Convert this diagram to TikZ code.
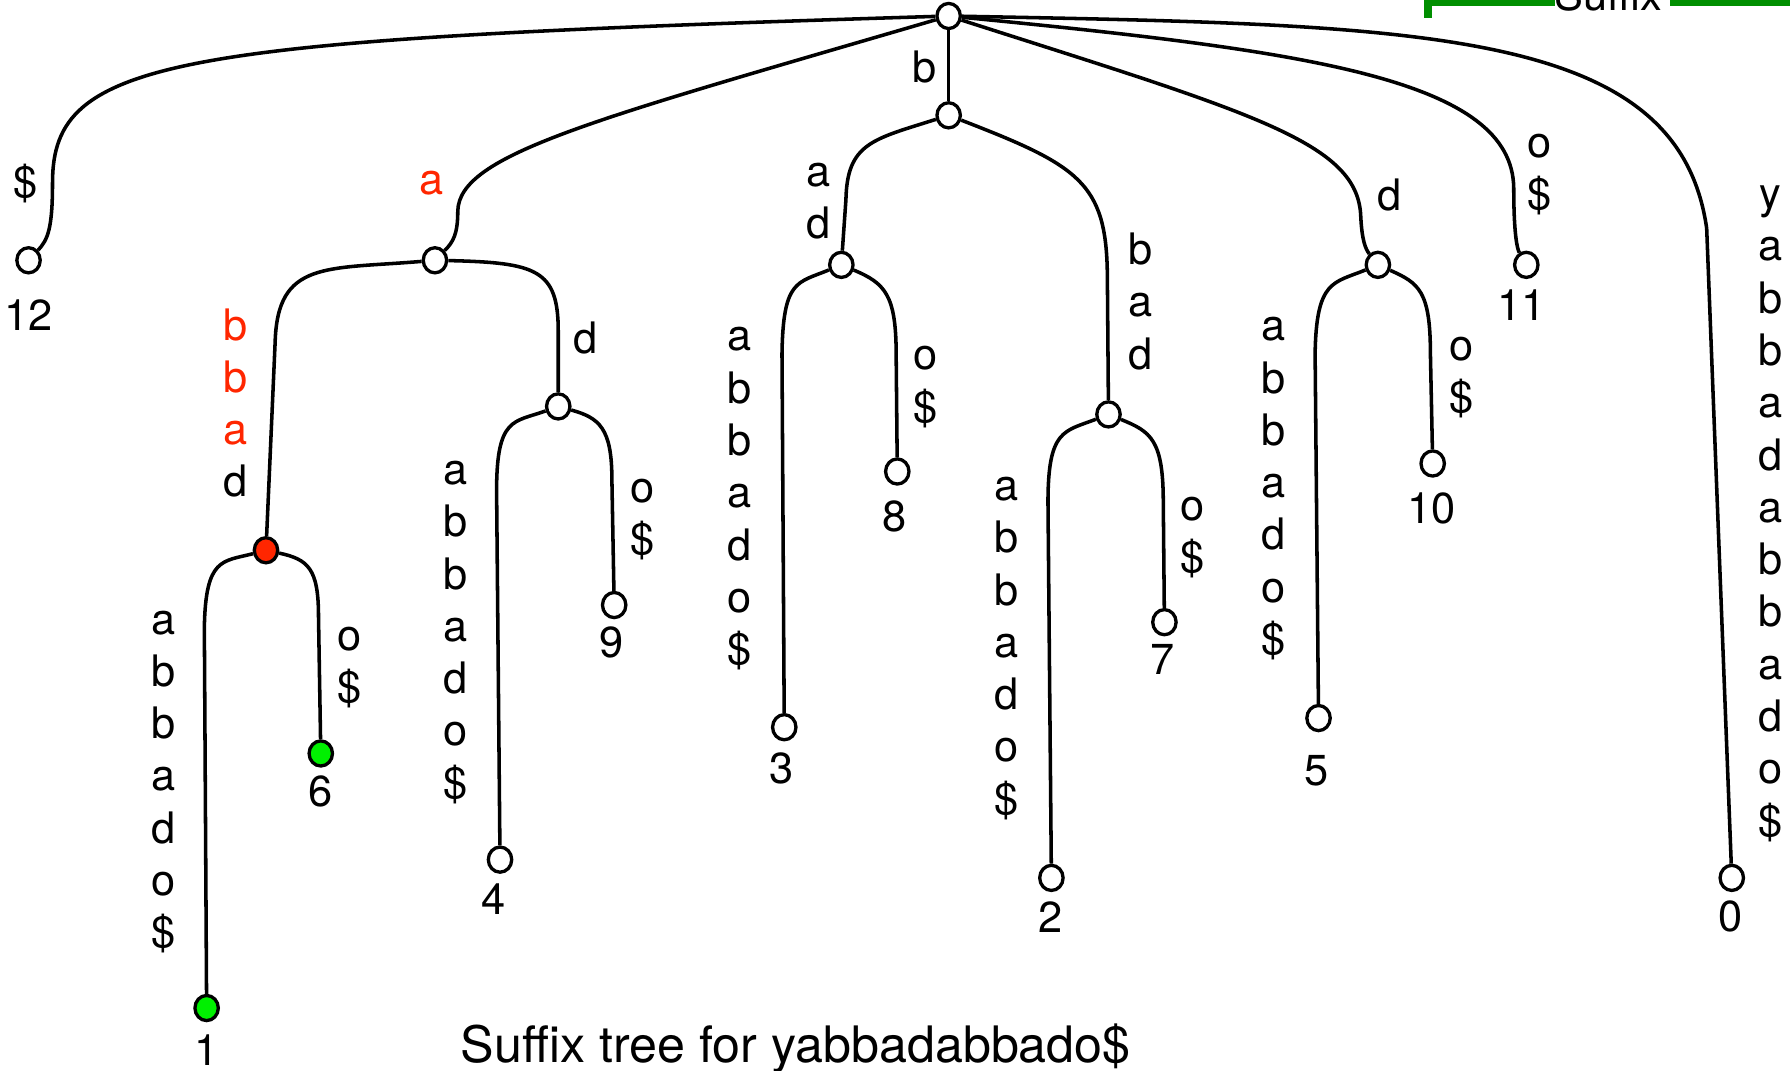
\documentclass[tikz,border=0pt]{standalone}
\usepackage{fontspec}
\usetikzlibrary{shapes.geometric}
\setmainfont{TeX Gyre Heros}
\definecolor{ored}{RGB}{255,38,0}
\definecolor{olime}{RGB}{0,240,0}
\definecolor{oclover}{RGB}{0,143,0}
\begin{document}
\begin{tikzpicture}[x=1pt,y=-1pt,
  nd/.style={ellipse,draw,line width=2.9pt,fill=white,minimum width=20.5pt,minimum height=22pt,inner sep=0pt},
  ed/.style={line width=3.1pt},
  lab/.style={font=\fontsize{38}{45.8}\selectfont,align=center,inner sep=0pt},
  num/.style={font=\fontsize{38}{45.8}\selectfont,inner sep=0pt}]
\useasboundingbox (0,0) rectangle (1568,938);
\clip (0,0) rectangle (1568,938);
% nodes
\node[nd] (R) at (831,14) {};
\node[nd] (B) at (831,101) {};
\node[nd] (A) at (381,228) {};
\node[nd] (L12) at (25,228) {};
\node[nd,fill=ored] (X) at (233,482) {};
\node[nd] (AD) at (489,356) {};
\node[nd,fill=olime] (L1) at (181,883) {};
\node[nd,fill=olime] (L6) at (281,660) {};
\node[nd] (L4) at (438,753) {};
\node[nd] (L9) at (538,530) {};
\node[nd] (BAD) at (737,232) {};
\node[nd] (L3) at (687,637) {};
\node[nd] (L8) at (786,413) {};
\node[nd] (BB) at (971,363) {};
\node[nd] (L2) at (921,769) {};
\node[nd] (L7) at (1020,545) {};
\node[nd] (D) at (1207,232) {};
\node[nd] (L5) at (1155,629) {};
\node[nd] (L10) at (1255,406) {};
\node[nd] (L11) at (1337,232) {};
\node[nd] (L0) at (1517,769) {};
% edges
\draw[ed] (R) .. controls (150,35) and (46,50) .. (46,160) .. controls (46,200) and (42,210) .. (L12);
\draw[ed] (R) .. controls (520,105) and (402,135) .. (401,185) .. controls (401,205) and (397,212) .. (A);
\draw[ed] (R) -- (B);
\draw[ed] (R) .. controls (1100,100) and (1190,125) .. (1192,190) .. controls (1193,210) and (1196,218) .. (D);
\draw[ed] (R) .. controls (1150,45) and (1325,70) .. (1326,165) .. controls (1326,205) and (1329,218) .. (L11);
\draw[ed] (R) .. controls (1250,22) and (1470,25) .. (1495,200) -- (L0);
\draw[ed] (B) .. controls (765,122) and (742,125) .. (741,175) -- (BAD);
\draw[ed] (B) .. controls (945,145) and (969,160) .. (970,240) -- (BB);
\draw[ed] (A) .. controls (285,236) and (243,228) .. (241,300) -- (X);
\draw[ed] (A) .. controls (470,230) and (489,236) .. (489,290) -- (AD);
\draw[ed] (X) .. controls (195,492) and (180,488) .. (179,550) -- (L1);
\draw[ed] (X) .. controls (270,490) and (279,498) .. (279,540) -- (L6);
\draw[ed] (AD) .. controls (450,370) and (435,365) .. (435,430) -- (L4);
\draw[ed] (AD) .. controls (525,366) and (536,375) .. (536,420) -- (L9);
\draw[ed] (BAD) .. controls (698,248) and (686,245) .. (685,310) -- (L3);
\draw[ed] (BAD) .. controls (775,248) and (785,258) .. (785,310) -- (L8);
\draw[ed] (BB) .. controls (932,378) and (918,376) .. (918,440) -- (L2);
\draw[ed] (BB) .. controls (1008,378) and (1019,385) .. (1019,440) -- (L7);
\draw[ed] (D) .. controls (1168,248) and (1153,245) .. (1152,310) -- (L5);
\draw[ed] (D) .. controls (1243,248) and (1253,255) .. (1253,310) -- (L10);
% edge labels
\node[lab] (s1) at (22,161) {\$};
\node[lab,text=ored] (s2) at (378,160) {a};
\node[lab] (s3) at (810,59) {b};
\node[lab] (s4) at (206,353) {\textcolor{ored}{b}\\\textcolor{ored}{b}\\\textcolor{ored}{a}\\d};
\node[lab] (s5) at (513,296) {d};
\node[lab] (s6) at (143,685) {a\\b\\b\\a\\d\\o\\\$};
\node[lab] (s7) at (306,585) {o\\\$};
\node[lab] (s8) at (399,554) {a\\b\\b\\a\\d\\o\\\$};
\node[lab] (s9) at (563,455) {o\\\$};
\node[lab] (s10) at (717,176) {a\\d};
\node[lab] (s11) at (648,437) {a\\b\\b\\a\\d\\o\\\$};
\node[lab] (s12) at (811,339) {o\\\$};
\node[lab] (s13) at (999,264) {b\\a\\d};
\node[lab] (s14) at (882,568) {a\\b\\b\\a\\d\\o\\\$};
\node[lab] (s15) at (1045,471) {o\\\$};
\node[lab] (s16) at (1217,171) {d};
\node[lab] (s17) at (1116,428) {a\\b\\b\\a\\d\\o\\\$};
\node[lab] (s18) at (1280,331) {o\\\$};
\node[lab] (s19) at (1349,153) {o\\\$};
\node[lab] (s20) at (1551,450) {y\\a\\b\\b\\a\\d\\a\\b\\b\\a\\d\\o\\\$};
% leaf numbers
\node[num] (n12) at (25,276) {12};
\node[num] (n1) at (181,920) {1};
\node[num] (n6) at (281,693) {6};
\node[num] (n4) at (432,788) {4};
\node[num] (n9) at (536,563) {9};
\node[num] (n3) at (685,673) {3};
\node[num] (n8) at (784,452) {8};
\node[num] (n2) at (920,803) {2};
\node[num] (n7) at (1018,578) {7};
\node[num] (n5) at (1153,675) {5};
\node[num] (n10) at (1254,445) {10};
\node[num] (n11) at (1333,267) {11};
\node[num] (n0) at (1516,803) {0};
% caption
\node[font=\fontsize{44}{52}\selectfont,anchor=base,inner sep=0pt] (cap) at (697,931) {Suffix tree for yabbadabbado\$};
% partial green bracket at top right
\node[num,anchor=base] (sfx) at (1409,9) {Suffix};
\draw[oclover,line width=5pt] (1251,2.5) -- (1362,2.5);
\draw[oclover,line width=5pt] (1463,2.5) -- (1580,2.5);
\draw[oclover,line width=7pt] (1251,-5) -- (1251,16);
\end{tikzpicture}
\end{document}
